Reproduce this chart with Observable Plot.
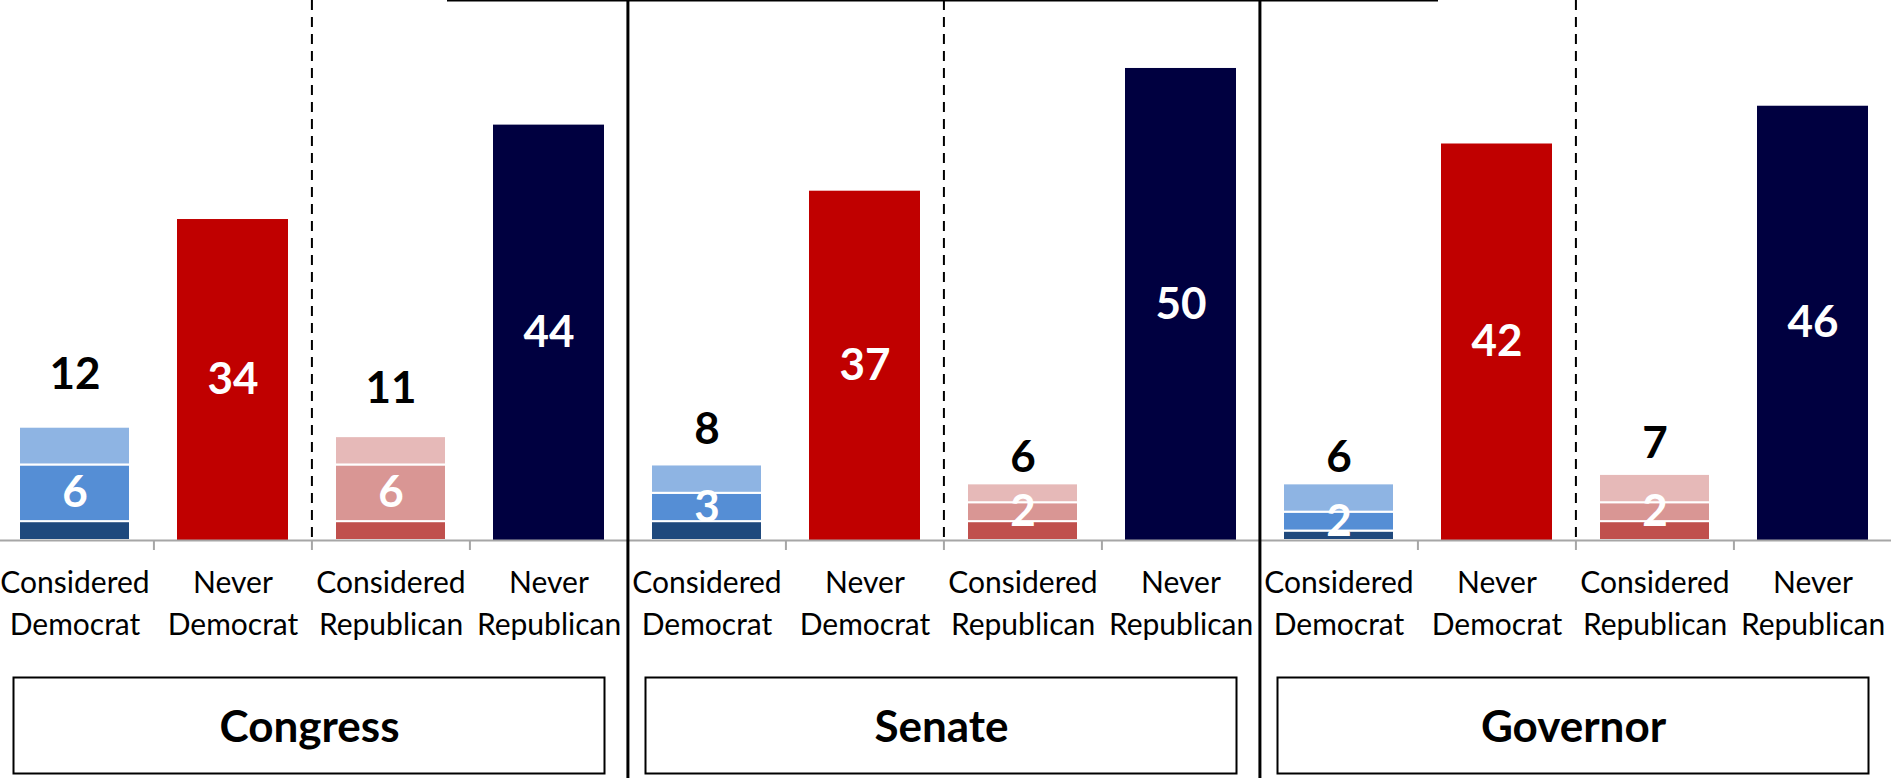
<!DOCTYPE html>
<html><head><meta charset="utf-8">
<script src="https://cdn.jsdelivr.net/npm/d3@7"></script>
<script src="https://cdn.jsdelivr.net/npm/@observablehq/plot@0.6"></script>
<style>html,body{margin:0;padding:0;background:#fff;overflow:hidden} svg{display:block}</style>
</head><body><div id="chart"></div>
<script>
// ---- data ----
const groups = ["Congress", "Senate", "Governor"];
const categories = ["Considered Democrat", "Never Democrat", "Considered Republican", "Never Republican"];
const consideredDemBottom = [2, 2, 1];
const consideredDemMiddle = [6, 3, 2];
const consideredDemTop    = [4, 3, 3];
const consideredDemTotal  = [12, 8, 6];
const consideredRepBottom = [2, 2, 2];
const consideredRepMiddle = [6, 2, 2];
const consideredRepTop    = [3, 2, 3];
const consideredRepTotal  = [11, 6, 7];
const neverDemocrat   = [34, 37, 42];
const neverRepublican = [44, 50, 46];

// ---- styles ----
const seriesKeys = ["Dem bottom","Dem middle","Dem top","Rep bottom","Rep middle","Rep top","Never Democrat","Never Republican"];
const seriesColors = ["#1F497D","#558ED5","#8EB4E3","#C0504D","#D99694","#E6B9B8","#C00000","#000040"];
const W = 1891, H = 778, MB = 238;
const FX0 = -5, FX1 = 1893;
const step = ((FX1 - FX0) / groups.length) / categories.length;
const YMAX = 57.2;

// ---- tables ----
const stacked = [], neverRows = [], midLabels = [], totalLabels = [], neverLabels = [];
groups.forEach((g, i) => {
  [["Considered Democrat","Dem",consideredDemBottom,consideredDemMiddle,consideredDemTop,consideredDemTotal],
   ["Considered Republican","Rep",consideredRepBottom,consideredRepMiddle,consideredRepTop,consideredRepTotal]]
  .forEach(([cat, p, b, m, t, tot]) => {
    stacked.push({group: g, category: cat, series: p + " bottom", value: b[i]});
    stacked.push({group: g, category: cat, series: p + " middle", value: m[i]});
    stacked.push({group: g, category: cat, series: p + " top", value: t[i]});
    midLabels.push({group: g, category: cat, y: b[i] + m[i] / 2, text: m[i]});
    totalLabels.push({group: g, category: cat, y: tot[i] * 1.46, text: tot[i]});
  });
  [["Never Democrat", neverDemocrat], ["Never Republican", neverRepublican]].forEach(([cat, arr]) => {
    neverRows.push({group: g, category: cat, series: cat, value: arr[i]});
    neverLabels.push({group: g, category: cat, y: arr[i] / 2, text: arr[i]});
  });
});
const groupRows = groups.map(g => ({group: g}));

const plot = Plot.plot({
  width: W, height: H,
  marginTop: 0, marginBottom: MB, marginLeft: 0, marginRight: 0,
  style: {fontFamily: "Lato, 'Open Sans', sans-serif", background: "white"},
  fx: {domain: groups, padding: 0, axis: null, range: [FX0, FX1]},
  x: {domain: categories, paddingInner: 0.295, paddingOuter: 0.1475},
  y: {domain: [0, YMAX], axis: null},
  color: {domain: seriesKeys, range: seriesColors},
  marks: [
    Plot.barY(stacked, {fx: "group", x: "category", y: "value", fill: "series", stroke: "white", strokeWidth: 2}),
    Plot.barY(neverRows, {fx: "group", x: "category", y: "value", fill: "series"}),
    Plot.ruleY([0], {stroke: "#a6a6a6", strokeWidth: 2}),
    Plot.ruleX(categories, {x: d => d, dx: -step / 2, insetTop: H - MB, insetBottom: -10, stroke: "#a6a6a6", strokeWidth: 2}),
    Plot.ruleX(["Considered Republican"], {x: d => d, dx: -step / 2, stroke: "black", strokeWidth: 2, strokeDasharray: "10,7"}),
    Plot.ruleX([{group: "Senate"}, {group: "Governor"}], {fx: "group", x: () => "Considered Democrat", dx: -step / 2, insetBottom: -MB, stroke: "black", strokeWidth: 3}),
    Plot.ruleY([{group: "Congress"}], {fx: "group", y: () => YMAX, insetLeft: 451, stroke: "black", strokeWidth: 2}),
    Plot.ruleY([{group: "Senate"}], {fx: "group", y: () => YMAX, stroke: "black", strokeWidth: 2}),
    Plot.ruleY([{group: "Governor"}], {fx: "group", y: () => YMAX, insetRight: 454, stroke: "black", strokeWidth: 2}),
    Plot.text(midLabels, {fx: "group", x: "category", y: "y", text: "text", fill: "white", fontWeight: "bold", fontSize: 44}),
    Plot.text(totalLabels, {fx: "group", x: "category", y: "y", text: "text", fill: "black", fontWeight: "bold", fontSize: 44}),
    Plot.text(neverLabels, {fx: "group", x: "category", y: "y", text: "text", fill: "white", fontWeight: "bold", fontSize: 44}),
    Plot.axisX({tickSize: 0, tickPadding: 23, fontSize: 30, lineHeight: 1.4, label: null, tickFormat: d => d.replace(" ", "\n"), fill: "black"}),
    Plot.frame({insetTop: H - MB + 137, insetBottom: -(MB - 5), insetLeft: 17, insetRight: 24, stroke: "black", strokeWidth: 2}),
    Plot.text(groupRows, {fx: "group", text: "group", frameAnchor: "bottom", dy: 187, dx: -3, lineAnchor: "middle", fontWeight: "bold", fontSize: 44, fill: "black"})
  ]
});
document.getElementById("chart").appendChild(plot);
</script></body></html>
